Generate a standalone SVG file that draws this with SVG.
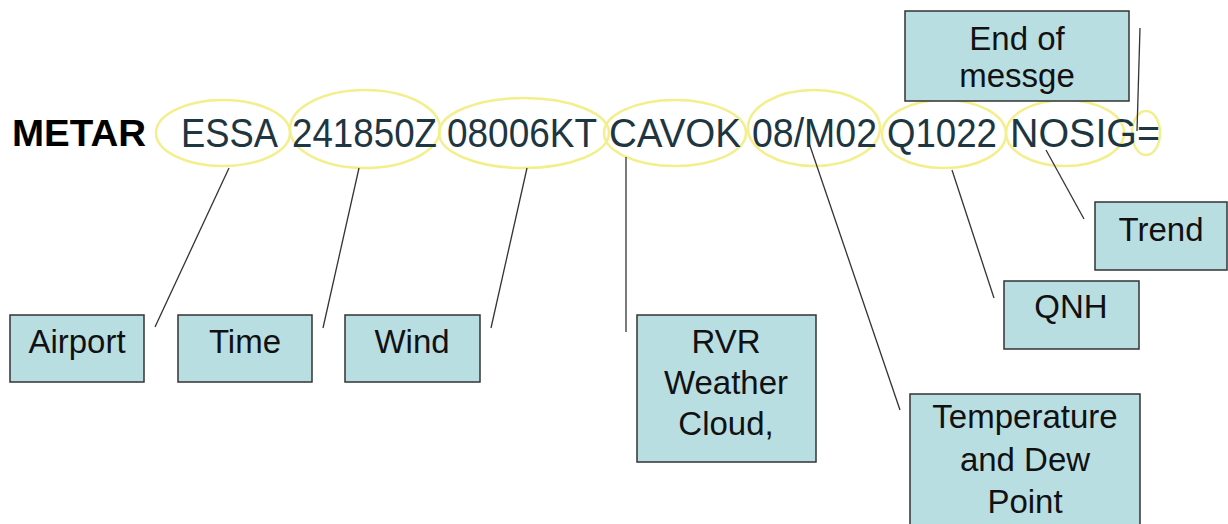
<svg xmlns="http://www.w3.org/2000/svg" width="1228" height="524" viewBox="0 0 1228 524">
<style>
.box{fill:#b9dee2;stroke:#333;stroke-width:1.5}
.lbl{font-family:"Liberation Sans",Arial,sans-serif;font-size:33px;fill:#111;text-anchor:middle}
.tok{font-family:"Liberation Sans",Arial,sans-serif;font-size:41px;fill:#1d3642}
.ell{fill:none;stroke:#f3ef8c;stroke-width:2.5}
.con{stroke:#333;stroke-width:1.3;fill:none}
</style>
<rect width="1228" height="524" fill="#fff"/>
<g id="ellipses">
<ellipse class="ell" cx="223" cy="133" rx="67" ry="33"/>
<ellipse class="ell" cx="365" cy="129" rx="75" ry="39"/>
<ellipse class="ell" cx="524" cy="133" rx="85" ry="35"/>
<ellipse class="ell" cx="675" cy="133" rx="71" ry="33"/>
<ellipse class="ell" cx="814" cy="128" rx="66" ry="38"/>
<ellipse class="ell" cx="944" cy="134" rx="62" ry="34"/>
<ellipse class="ell" cx="1065" cy="133" rx="59" ry="33"/>
<ellipse class="ell" cx="1146" cy="133" rx="14" ry="22"/>
</g>
<g id="metar">
<text x="12" y="146" font-family="'Liberation Sans',Arial,sans-serif" font-size="36" font-weight="bold" fill="#000" textLength="134" lengthAdjust="spacingAndGlyphs">METAR</text>
<text class="tok" x="181" y="147" textLength="97" lengthAdjust="spacingAndGlyphs">ESSA</text>
<text class="tok" x="292" y="147" textLength="145" lengthAdjust="spacingAndGlyphs">241850Z</text>
<text class="tok" x="447" y="147" textLength="150" lengthAdjust="spacingAndGlyphs">08006KT</text>
<text class="tok" x="609" y="147" textLength="132" lengthAdjust="spacingAndGlyphs">CAVOK</text>
<text class="tok" x="752" y="147" textLength="125" lengthAdjust="spacingAndGlyphs">08/M02</text>
<text class="tok" x="887" y="147" textLength="110" lengthAdjust="spacingAndGlyphs">Q1022</text>
<text class="tok" x="1010" y="147" textLength="150" lengthAdjust="spacingAndGlyphs">NOSIG=</text>
</g>
<g id="connectors">
<line class="con" x1="155" y1="327" x2="229" y2="168"/>
<line class="con" x1="323" y1="328" x2="359" y2="168"/>
<line class="con" x1="491" y1="328" x2="527" y2="168"/>
<line class="con" x1="626" y1="157" x2="626" y2="332"/>
<line class="con" x1="808" y1="140" x2="900" y2="410"/>
<line class="con" x1="952" y1="170" x2="994" y2="298"/>
<line class="con" x1="1046" y1="150" x2="1084" y2="219"/>
<line class="con" x1="1140" y1="28" x2="1137" y2="131"/>
</g>
<g id="airport"><rect class="box" x="10" y="315" width="134" height="67"/><text class="lbl" x="77" y="353">Airport</text></g>
<g id="time"><rect class="box" x="178" y="315" width="134" height="67"/><text class="lbl" x="245" y="353">Time</text></g>
<g id="wind"><rect class="box" x="345" y="315" width="135" height="67"/><text class="lbl" x="412" y="353">Wind</text></g>
<g id="rvr"><rect class="box" x="637" y="315" width="179" height="147"/><text class="lbl" x="726" y="353">RVR</text><text class="lbl" x="726" y="394">Weather</text><text class="lbl" x="726" y="435">Cloud,</text></g>
<g id="temperature"><rect class="box" x="910" y="394" width="230" height="140"/><text class="lbl" x="1025" y="428">Temperature</text><text class="lbl" x="1025" y="471">and Dew</text><text class="lbl" x="1025" y="513">Point</text></g>
<g id="qnh"><rect class="box" x="1004" y="281" width="135" height="68"/><text class="lbl" x="1071" y="318">QNH</text></g>
<g id="trend"><rect class="box" x="1095" y="202" width="132" height="68"/><text class="lbl" x="1161" y="241">Trend</text></g>
<g id="end"><rect class="box" x="905" y="11" width="224" height="90"/><text class="lbl" x="1017" y="50">End of</text><text class="lbl" x="1017" y="87">messge</text></g>
</svg>
